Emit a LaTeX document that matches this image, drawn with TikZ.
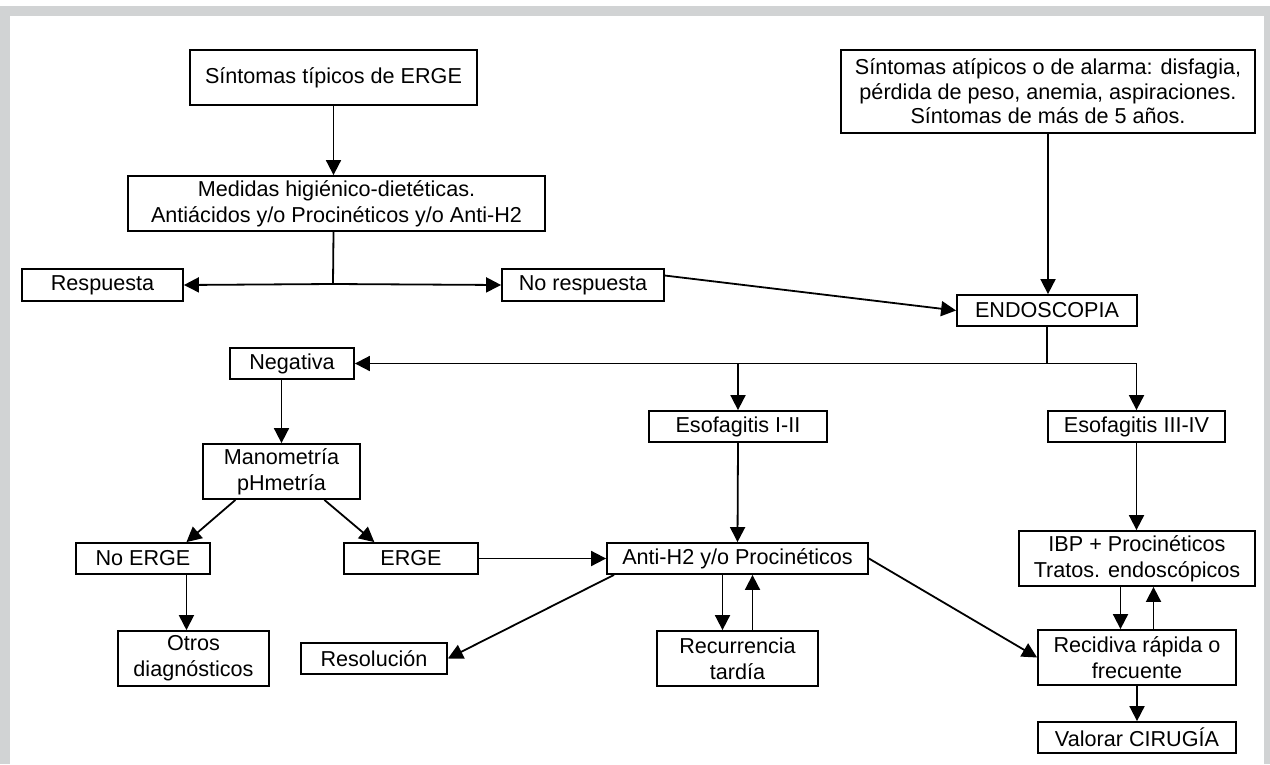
\documentclass[tikz,border=0pt]{standalone}
\usepackage{fontspec}
\setmainfont{Liberation Sans}
\usetikzlibrary{arrows.meta,calc}
\definecolor{framegray}{RGB}{209,211,212}
\tikzset{
  box/.style={draw,line width=0.9bp,inner sep=0pt,align=center,
    font=\fontsize{10.8bp}{13bp}\selectfont},
  arr/.style={line width=0.9bp,-{Triangle[length=7.5bp,width=7.5bp]}},
  ln/.style={line width=0.9bp}
}
\begin{document}
\begin{tikzpicture}[x=0.5bp,y=-0.5bp]
\useasboundingbox (0,0) rectangle (1270,764);
\fill[framegray] (0,6) rectangle (1270,16);
\fill[framegray] (0,6) rectangle (10,764);
\fill[framegray] (1264,6) rectangle (1270,764);

\node[box,minimum width=143.5bp,minimum height=27.5bp] (sintomas) at (333.5,77.5) {Síntomas típicos de ERGE};
\node[box,minimum width=208.5bp,minimum height=27.5bp] (medidas) at (336.5,203.5) {Medidas higiénico-dietéticas.\\Antiácidos y/o Procinéticos y/o Anti-H2};
\node[box,minimum width=207bp,minimum height=41.5bp,font=\fontsize{10.8bp}{12.2bp}\selectfont] (atipicos) at (1048,91.5) {Síntomas atípicos o de alarma: disfagia,\\pérdida de peso, anemia, aspiraciones.\\Síntomas de más de 5 años.};
\node[box,minimum width=80.5bp,minimum height=16bp] (respuesta) at (102.5,285) {Respuesta};
\node[box,minimum width=81bp,minimum height=16bp] (norespuesta) at (583,285) {No respuesta};
\node[box,minimum width=90bp,minimum height=15.5bp] (endoscopia) at (1047,310.5) {ENDOSCOPIA};
\node[box,minimum width=62bp,minimum height=15.5bp] (negativa) at (292,363.5) {Negativa};
\node[box,minimum width=89bp,minimum height=15.5bp] (esof12) at (738,426.5) {Esofagitis I-II};
\node[box,minimum width=88.5bp,minimum height=15.5bp] (esof34) at (1136.5,426.5) {Esofagitis III-IV};
\node[box,minimum width=78.5bp,minimum height=27.5bp] (manometria) at (281.5,471.5) {Manometría\\pHmetría};
\node[box,minimum width=67bp,minimum height=15.5bp] (noerge) at (143,558.5) {No ERGE};
\node[box,minimum width=67bp,minimum height=15.5bp] (erge) at (411,558.5) {ERGE};
\node[box,minimum width=130.5bp,minimum height=15.5bp] (antih2) at (737.5,558.5) {Anti-H2 y/o Procinéticos};
\node[box,minimum width=118bp,minimum height=27.5bp] (ibp) at (1137,558.5) {IBP + Procinéticos\\Tratos. endoscópicos};
\node[box,minimum width=75.5bp,minimum height=27.5bp] (otros) at (193.5,658.5) {Otros\\diagnósticos};
\node[box,minimum width=73bp,minimum height=15.5bp] (resolucion) at (374,658.5) {Resolución};
\node[box,minimum width=80.5bp,minimum height=27.5bp] (recurrencia) at (737.5,658.5) {Recurrencia\\tardía};
\node[box,minimum width=99bp,minimum height=27.5bp] (recidiva) at (1137,657.5) {Recidiva rápida o\\frecuente};
\node[box,minimum width=99bp,minimum height=15.5bp] (valorar) at (1137,737.5) {Valorar CIRUGÍA};

% top left branch
\draw[arr] (sintomas.south) -- (sintomas.south |- medidas.north);
\coordinate (j1) at (333,284);
\draw[ln] (sintomas.south |- medidas.south) -- (j1);
\draw[arr] (j1) -- (respuesta.east);
\draw[arr] (j1) -- (norespuesta.west);
\draw[arr] ($(norespuesta.north east)!0.22!(norespuesta.south east)$) -- (endoscopia.west);
\draw[arr] (atipicos.south) -- (atipicos.south |- endoscopia.north);

% endoscopia split
\coordinate (j2) at (endoscopia.south |- negativa.east);
\draw[ln] (endoscopia.south) -- (j2);
\draw[arr] (j2) -| (esof34.north);
\draw[arr] (j2) -- (negativa.east);
\draw[arr] (esof12.north |- j2) -- (esof12.north);

% left column
\draw[arr] (manometria.north |- negativa.south) -- (manometria.north);
\draw[arr] ($(manometria.south west)!0.21!(manometria.south east)$) -- ($(noerge.north west)!0.82!(noerge.north east)$);
\draw[arr] ($(manometria.south west)!0.77!(manometria.south east)$) -- ($(erge.north west)!0.23!(erge.north east)$);
\coordinate (ne) at ($(noerge.south west)!0.82!(noerge.south east)$);
\draw[arr] (ne) -- (ne |- otros.north);
\draw[arr] (erge.east) -- (antih2.west);

% middle column
\draw[arr] (esof12.south) -- (antih2.north);
\draw[arr] ($(antih2.south west)!0.03!(antih2.south east)$) -- (resolucion.east);
\draw[arr] ([xshift=-7.5bp]antih2.south) -- ([xshift=-7.5bp]recurrencia.north);
\draw[arr] ([xshift=7.5bp]recurrencia.north) -- ([xshift=7.5bp]antih2.south);
\draw[arr] (antih2.east) -- (recidiva.west);

% right column
\draw[arr] (esof34.south) -- (esof34.south |- ibp.north);
\draw[arr] ([xshift=-8.25bp]ibp.south) -- ([xshift=-8.25bp]recidiva.north);
\draw[arr] ([xshift=8.25bp]recidiva.north) -- ([xshift=8.25bp]ibp.south);
\draw[arr] (recidiva.south) -- (valorar.north);
\end{tikzpicture}
\end{document}
